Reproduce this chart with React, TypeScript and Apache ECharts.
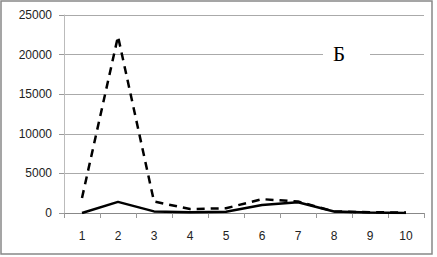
import React, { useEffect, useRef } from "react";
import * as echarts from "echarts";

const categories = ["1", "2", "3", "4", "5", "6", "7", "8", "9", "10"];
const dashedValues = [1900, 22300, 1450, 500, 600, 1750, 1450, 200, 100, 50];
const solidValues = [0, 1400, 200, 100, 150, 1000, 1350, 200, 50, 0];
const legendText = "Б";

export default function App() {
  const ref = useRef<HTMLDivElement>(null);
  useEffect(() => {
    document.body.style.margin = "0";
    const chart = echarts.init(ref.current!, null, { renderer: "svg" });
    chart.setOption({
      animation: false,
      backgroundColor: "#ffffff",
      grid: { left: 64, right: 13, top: 15, bottom: 44 },
      xAxis: {
        type: "category",
        data: categories,
        boundaryGap: true,
        axisLine: { lineStyle: { color: "#888", width: 1 } },
        axisTick: { show: true, length: 5, lineStyle: { color: "#999" } },
        axisLabel: { color: "#222", fontSize: 12, fontFamily: "Liberation Sans", margin: 17 },
      },
      yAxis: {
        type: "value",
        min: 0,
        max: 25000,
        interval: 5000,
        axisLine: { show: true, lineStyle: { color: "#bbb" } },
        axisTick: { show: true, length: 5, lineStyle: { color: "#999" } },
        axisLabel: {
          color: "#222",
          fontSize: 12,
          fontFamily: "Liberation Sans",
          margin: 12,
          formatter: (v: number) => String(v),
        },
        splitLine: { lineStyle: { color: "#aaa" } },
      },
      series: [
        {
          type: "line",
          data: dashedValues,
          symbol: "none",
          lineStyle: { color: "#000", width: 2.5, type: [8, 6] },
        },
        {
          type: "line",
          data: solidValues,
          symbol: "none",
          lineStyle: { color: "#000", width: 2.5 },
        },
      ],
      graphic: [
        {
          type: "rect",
          shape: { x: 1, y: 1, width: 431, height: 253 },
          style: { fill: "none", stroke: "#888", lineWidth: 1.5 },
          z: 100,
        },
        {
          type: "rect",
          shape: { x: 323, y: 40, width: 47, height: 28 },
          style: { fill: "#fff" },
          z: 100,
        },
        {
          type: "text",
          x: 339,
          y: 54,
          style: {
            text: legendText,
            fill: "#000",
            font: "21px 'Liberation Serif'",
            align: "center",
            verticalAlign: "middle",
          },
          z: 101,
        },
      ],
    });
    return () => chart.dispose();
  }, []);
  return <div ref={ref} style={{ position: "absolute", left: 0, top: 0, width: 437, height: 257 }} />;
}
